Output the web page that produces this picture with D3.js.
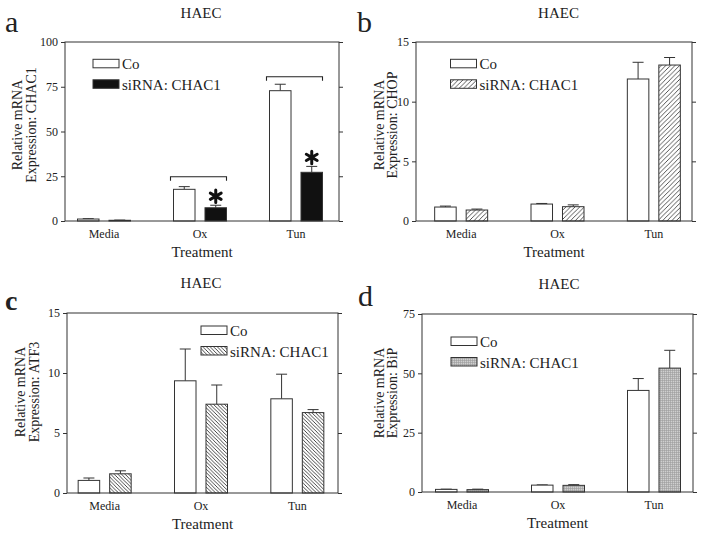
<!DOCTYPE html>
<html>
<head>
<meta charset="utf-8">
<script src="https://cdn.jsdelivr.net/npm/d3@7"></script>
<style>
body { margin: 0; background: #fff; }
text { font-family: "Liberation Serif", "Times New Roman", serif; fill: #222; }
</style>
</head>
<body>
<svg id="chart" width="704" height="534"></svg>
<script>
// categories and series
var categories = ["Media", "Ox", "Tun"];
var seriesNames = ["Co", "siRNA: CHAC1"];

// a: CHAC1
var chac1Co = [1.1, 17.7, 72.8];
var chac1CoErr = [1.3, 19.2, 76.4];
var chac1Si = [0.4, 7.4, 27.2];
var chac1SiErr = [0.5, 8.8, 30.5];
var chac1Ticks = [0, 25, 50, 75, 100];
// significance brackets (category, height in data units)
var chac1Brackets = [["Ox", 24.7], ["Tun", 80.6]];

// b: CHOP
var chopCo = [1.17, 1.42, 11.9];
var chopCoErr = [1.25, 1.47, 13.3];
var chopSi = [0.92, 1.2, 13.07];
var chopSiErr = [1.0, 1.35, 13.7];
var chopTicks = [0, 5, 10, 15];

// c: ATF3
var atf3Co = [1.05, 9.35, 7.85];
var atf3CoErr = [1.25, 12.0, 9.9];
var atf3Si = [1.6, 7.4, 6.7];
var atf3SiErr = [1.85, 9.0, 6.95];
var atf3Ticks = [0, 5, 10, 15];

// d: BiP
var bipCo = [1.1, 2.9, 42.8];
var bipCoErr = [1.2, 3.0, 47.8];
var bipSi = [1.0, 2.8, 52.2];
var bipSiErr = [1.2, 3.1, 59.7];
var bipTicks = [0, 25, 50, 75];

var svg = d3.select("#chart");
var defs = svg.append("defs");

// hatch patterns for the siRNA bars
function hatch(id, size, dir, color) {
    var p = defs.append("pattern").attr("id", id)
        .attr("patternUnits", "userSpaceOnUse")
        .attr("width", size).attr("height", size);
    p.append("rect").attr("width", size).attr("height", size).attr("fill", "#fff");
    var d = dir == "/" ?
        "M0," + size + "L" + size + ",0M-1,1L1,-1M" + (size - 1) + "," + (size + 1) + "L" + (size + 1) + "," + (size - 1) :
        "M0,0L" + size + "," + size + "M-1," + (size - 1) + "L1," + (size + 1) + "M" + (size - 1) + ",-1L" + (size + 1) + ",1";
    p.append("path").attr("d", d).attr("stroke", color).attr("stroke-width", 0.9);
}
hatch("hatchB", 4.6, "/", "#444");
hatch("hatchC", 3.6, "\\", "#333");

var grid = defs.append("pattern").attr("id", "gridD")
    .attr("patternUnits", "userSpaceOnUse").attr("width", 2).attr("height", 2);
grid.append("rect").attr("width", 2).attr("height", 2).attr("fill", "#cfcfcf");
grid.append("path").attr("d", "M0,0.5H2M0.5,0V2").attr("stroke", "#9c9c9c").attr("stroke-width", 0.6);

var panels = [
    {letter: "a", bold: false, letterPos: [5, 32], gene: "CHAC1", co: chac1Co, coErr: chac1CoErr, si: chac1Si, siErr: chac1SiErr,
     ticks: chac1Ticks, fill: "#111", brackets: chac1Brackets,
     left: 65, right: 339, top: 42, bottom: 221, catRange: [56, 344],
     title: [201, 18], ylab: [22, 36, 125], legend: [93, 59.3]},
    {letter: "b", bold: false, letterPos: [357, 32], gene: "CHOP", co: chopCo, coErr: chopCoErr, si: chopSi, siErr: chopSiErr,
     ticks: chopTicks, fill: "url(#hatchB)", brackets: [],
     left: 416, right: 692, top: 42, bottom: 221, catRange: [413, 702],
     title: [558.5, 18], ylab: [384, 397, 125], legend: [450.5, 59.3]},
    {letter: "c", bold: true, letterPos: [5, 310], gene: "ATF3", co: atf3Co, coErr: atf3CoErr, si: atf3Si, siErr: atf3SiErr,
     ticks: atf3Ticks, fill: "url(#hatchC)", brackets: [],
     left: 67, right: 338, top: 313, bottom: 493, catRange: [56.5, 345.5],
     title: [201, 288], ylab: [25, 39, 392], legend: [201, 326]},
    {letter: "d", bold: false, letterPos: [358, 306], gene: "BiP", co: bipCo, coErr: bipCoErr, si: bipSi, siErr: bipSiErr,
     ticks: bipTicks, fill: "url(#gridD)", brackets: [],
     left: 422, right: 693, top: 314, bottom: 492, catRange: [414, 702],
     title: [559, 289], ylab: [384, 397, 393], legend: [451, 337]}
];

panels.forEach(drawPanel);

function drawPanel(p) {
    var g = svg.append("g");
    var y = d3.scaleLinear().domain([0, d3.max(p.ticks)]).range([p.bottom, p.top]);
    var x0 = d3.scaleBand().domain(categories).range(p.catRange);
    var x1 = d3.scaleBand().domain(seriesNames).range([-26.5, 26.5]).paddingInner(0.317);

    var rows = [];
    categories.forEach(function(c, i) {
        rows.push({cat: c, s: seriesNames[0], v: p.co[i], e: p.coErr[i]});
        rows.push({cat: c, s: seriesNames[1], v: p.si[i], e: p.siErr[i]});
    });
    function bx(d) { return x0(d.cat) + x0.bandwidth() / 2 + x1(d.s); }
    function cx(d) { return bx(d) + x1.bandwidth() / 2; }

    // error bars (upper only)
    var eb = g.selectAll(".err").data(rows).enter().append("g").attr("class", "err")
        .attr("stroke", "#333").attr("stroke-width", 1);
    eb.append("line").attr("x1", cx).attr("x2", cx)
        .attr("y1", function(d) { return y(d.v); }).attr("y2", function(d) { return y(d.e); });
    eb.append("line").attr("x1", function(d) { return cx(d) - 5.5; }).attr("x2", function(d) { return cx(d) + 5.5; })
        .attr("y1", function(d) { return y(d.e); }).attr("y2", function(d) { return y(d.e); });

    g.selectAll(".bar").data(rows).enter().append("rect").attr("class", "bar")
        .attr("x", bx).attr("width", x1.bandwidth())
        .attr("y", function(d) { return y(d.v); })
        .attr("height", function(d) { return y(0) - y(d.v); })
        .attr("fill", function(d) { return d.s == seriesNames[0] ? "#fff" : p.fill; })
        .attr("stroke", "#333").attr("stroke-width", 1);

    // frame
    g.append("rect").attr("x", p.left).attr("y", p.top)
        .attr("width", p.right - p.left).attr("height", p.bottom - p.top)
        .attr("fill", "none").attr("stroke", "#333").attr("stroke-width", 1);

    var ya = g.append("g").attr("transform", "translate(" + p.left + ",0)")
        .call(d3.axisLeft(y).tickValues(p.ticks).tickSize(4).tickPadding(3));
    ya.select(".domain").remove();
    ya.selectAll("text").attr("font-size", 12).attr("font-family", null).attr("fill", "#222");
    ya.selectAll("line").attr("stroke", "#333");

    var yr = g.append("g").attr("transform", "translate(" + p.right + ",0)")
        .call(d3.axisRight(y).tickValues(p.ticks).tickSize(4).tickFormat(""));
    yr.select(".domain").remove();
    yr.selectAll("line").attr("stroke", "#333");

    var xa = g.append("g").attr("transform", "translate(0," + p.bottom + ")")
        .call(d3.axisBottom(x0).tickSize(0).tickPadding(8.5));
    xa.select(".domain").remove();
    xa.selectAll("text").attr("font-size", 12).attr("font-family", null).attr("fill", "#222");

    // brackets and asterisks
    p.brackets.forEach(function(b) {
        var co = {cat: b[0], s: seriesNames[0]}, si = {cat: b[0], s: seriesNames[1]};
        var xl = bx(co) - 3, xr = bx(si) + x1.bandwidth(), yb = y(b[1]);
        g.append("path").attr("d", "M" + xl + "," + (yb + 4) + "V" + yb + "H" + xr + "V" + (yb + 4))
            .attr("fill", "none").attr("stroke", "#222").attr("stroke-width", 1.1);
        var i = categories.indexOf(b[0]);
        g.append("path").attr("d", d3.symbol().type(d3.symbolAsterisk).size(110)())
            .attr("transform", "translate(" + cx(si) + "," + (y(p.siErr[i]) - 9) + ")")
            .attr("fill", "none").attr("stroke", "#111").attr("stroke-width", 3).attr("stroke-linecap", "round");
    });

    // legend
    seriesNames.forEach(function(s, i) {
        var ly = p.legend[1] + i * 20.5;
        g.append("rect").attr("x", p.legend[0]).attr("y", ly).attr("width", 26).attr("height", 8.5)
            .attr("fill", i == 0 ? "#fff" : p.fill).attr("stroke", "#333").attr("stroke-width", 1);
        g.append("text").attr("x", p.legend[0] + 29).attr("y", ly + 10).attr("font-size", 15).text(s);
    });

    // titles
    g.append("text").attr("x", p.title[0]).attr("y", p.title[1]).attr("text-anchor", "middle")
        .attr("font-size", 15).text("HAEC");
    g.append("text").attr("x", p.letterPos[0]).attr("y", p.letterPos[1])
        .attr("font-size", p.bold ? 28 : 30).attr("font-weight", p.bold ? "bold" : "normal").text(p.letter);
    g.append("text").attr("x", (p.left + p.right) / 2).attr("y", p.bottom + 36).attr("text-anchor", "middle")
        .attr("font-size", 15).text("Treatment");
    g.append("text").attr("transform", "translate(" + p.ylab[0] + "," + p.ylab[2] + ") rotate(-90)")
        .attr("text-anchor", "middle").attr("font-size", 14).text("Relative mRNA");
    g.append("text").attr("transform", "translate(" + p.ylab[1] + "," + p.ylab[2] + ") rotate(-90)")
        .attr("text-anchor", "middle").attr("font-size", 14).text("Expression: " + p.gene);
}
</script>
</body>
</html>
